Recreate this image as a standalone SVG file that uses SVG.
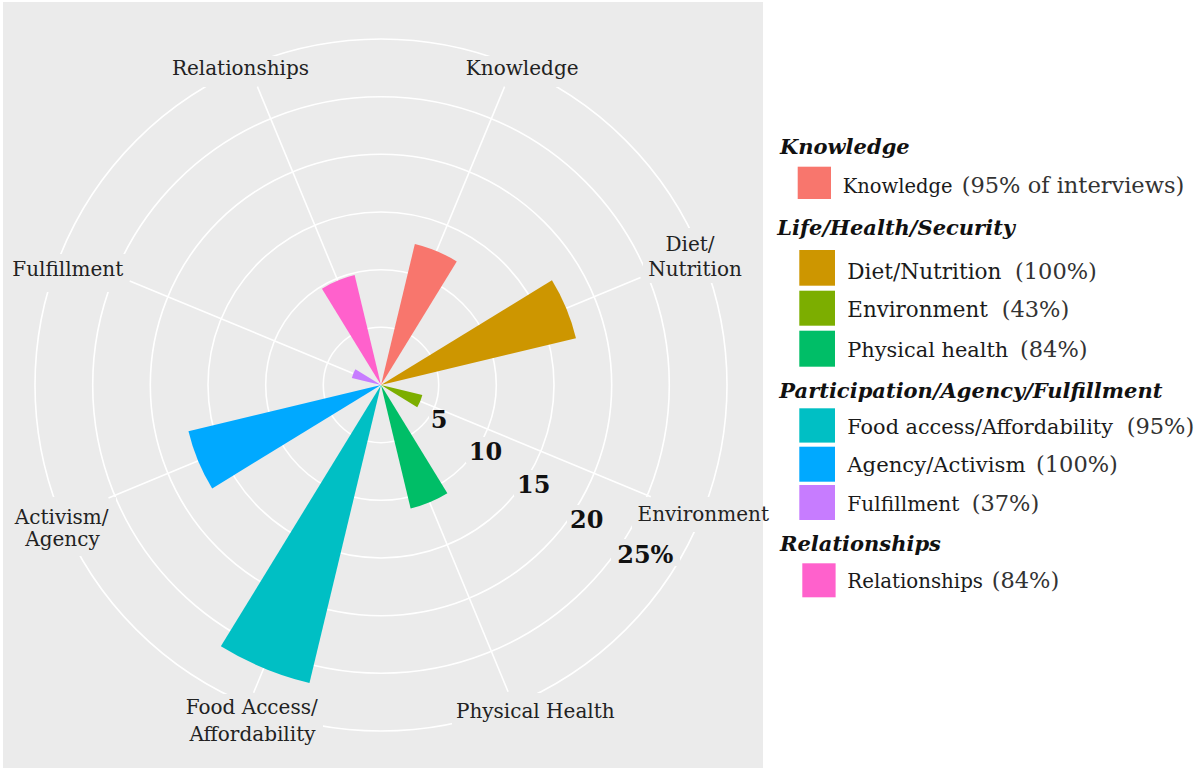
<svg xmlns="http://www.w3.org/2000/svg" width="1199" height="771" viewBox="0 0 1199 771">
<style>
.ring{fill:none;stroke:#ffffff;stroke-width:1.6}
.spoke{stroke:#ffffff;stroke-width:1.6}
.box{fill:#EBEBEB}
.lbl{font-family:'DejaVu Serif','Liberation Serif',serif;font-size:20px;fill:#222;text-anchor:middle}
.scale{font-family:'DejaVu Serif','Liberation Serif',serif;font-weight:bold;font-size:24px;fill:#111;text-anchor:middle}
.lt{font-family:'DejaVu Serif','Liberation Serif',serif;font-weight:bold;font-style:italic;font-size:21px;fill:#111}
.li{font-family:'DejaVu Serif','Liberation Serif',serif;font-size:20.5px;fill:#1a1a1a}
.pct{font-size:22.5px;fill:#333}
</style>
<rect x="0" y="0" width="1199" height="771" fill="#ffffff"/>
<rect id="panel" x="3" y="2" width="760" height="766" fill="#EBEBEB"/>

<g id="grid">
  <circle class="ring" cx="381" cy="385" r="57.7"/>
  <circle class="ring" cx="381" cy="385" r="115.3"/>
  <circle class="ring" cx="381" cy="385" r="173"/>
  <circle class="ring" cx="381" cy="385" r="230.7"/>
  <circle class="ring" cx="381" cy="385" r="288.3"/>
  <circle class="ring" cx="381" cy="385" r="346"/>
</g>

<g id="label-boxes">
  <rect class="box" x="165" y="56" width="150" height="31"/>
  <rect class="box" x="460" y="56" width="125" height="31"/>
  <rect class="box" x="643" y="228" width="105" height="55"/>
  <rect class="box" x="4" y="254" width="126" height="38"/>
  <rect class="box" x="632" y="497" width="131" height="35"/>
  <rect class="box" x="5" y="497" width="111" height="59"/>
  <rect class="box" x="180" y="694" width="143" height="58"/>
  <rect class="box" x="452" y="693" width="167" height="35"/>
  <rect class="box" x="429" y="411" width="20" height="20"/>
  <rect class="box" x="466" y="437" width="39" height="26"/>
  <rect class="box" x="514" y="470" width="39" height="26"/>
  <rect class="box" x="567" y="505" width="39" height="26"/>
  <rect class="box" x="611" y="539" width="69" height="27"/>
</g>

<g id="connectors">
  <line class="spoke" x1="381" y1="385" x2="504.6" y2="86.6"/>
  <line class="spoke" x1="381" y1="385" x2="640.6" y2="277.5"/>
  <line class="spoke" x1="381" y1="385" x2="650.8" y2="496.7"/>
  <line class="spoke" x1="381" y1="385" x2="508.1" y2="691.7"/>
  <line class="spoke" x1="381" y1="385" x2="253.6" y2="692.7"/>
  <line class="spoke" x1="381" y1="385" x2="108.5" y2="497.9"/>
  <line class="spoke" x1="381" y1="385" x2="129.7" y2="280.9"/>
  <line class="spoke" x1="381" y1="385" x2="257.4" y2="86.6"/>
</g>

<g id="bars">
  <path id="bar-knowledge" d="M381,385 L414.85,244.0 A145,145 0 0 1 456.76,261.4 Z" fill="#F8766D"/>
  <path id="bar-diet" d="M381,385 L551.95,280.24 A200.5,200.5 0 0 1 575.97,338.2 Z" fill="#CD9600"/>
  <path id="bar-environment" d="M381,385 L422.33,394.92 A42.5,42.5 0 0 1 417.24,407.21 Z" fill="#7CAE00"/>
  <path id="bar-physical" d="M381,385 L447.36,493.28 A127,127 0 0 1 410.64,508.49 Z" fill="#00BE67"/>
  <path id="bar-food" d="M381,385 L309.46,683.04 A306.5,306.5 0 0 1 220.85,646.32 Z" fill="#00BFC4"/>
  <path id="bar-agency" d="M381,385 L212.19,488.46 A198,198 0 0 1 188.46,431.21 Z" fill="#00A9FF"/>
  <path id="bar-fulfillment" d="M381,385 L351.83,378.0 A30,30 0 0 1 355.42,369.32 Z" fill="#C77CFF"/>
  <path id="bar-relationships" d="M381,385 L321.96,288.66 A113,113 0 0 1 354.63,275.12 Z" fill="#FF61CC"/>
</g>

<g id="axis-labels">
  <text class="lbl" x="240.5" y="75">Relationships</text>
  <text class="lbl" x="522.2" y="75">Knowledge</text>
  <text class="lbl" x="690" y="250.7">Diet/</text>
  <text class="lbl" x="695" y="276">Nutrition</text>
  <text class="lbl" x="67.8" y="276">Fulfillment</text>
  <text class="lbl" x="703.3" y="521">Environment</text>
  <text class="lbl" x="61.7" y="524">Activism/</text>
  <text class="lbl" x="62.5" y="546">Agency</text>
  <text class="lbl" x="251.7" y="714.3">Food Access/</text>
  <text class="lbl" x="252.5" y="740.7">Affordability</text>
  <text class="lbl" x="535.3" y="718.3">Physical Health</text>
</g>

<g id="scale-labels">
  <text class="scale" x="439.2" y="428.3">5</text>
  <text class="scale" x="485.5" y="460">10</text>
  <text class="scale" x="533.7" y="493.3">15</text>
  <text class="scale" x="586.7" y="528.3">20</text>
  <text class="scale" x="645.3" y="562.7">25%</text>
</g>

<g id="legend">
  <text class="lt" x="780" y="154.3">Knowledge</text>
  <rect x="797.7" y="166.7" width="33.3" height="32.3" fill="#F8766D"/>
  <text class="li" x="842.7" y="192.7" style="font-size:19.5px">Knowledge <tspan class="pct" x="961.7">(95% of interviews)</tspan></text>

  <text class="lt" x="777.3" y="235">Life/Health/Security</text>
  <rect x="799.3" y="250" width="35.7" height="35.7" fill="#CD9600"/>
  <text class="li" x="847.3" y="279.3" style="font-size:21.6px">Diet/Nutrition <tspan class="pct" x="1015">(100%)</tspan></text>
  <rect x="799.3" y="290.7" width="35.7" height="35" fill="#7CAE00"/>
  <text class="li" x="847.3" y="317.3" style="font-size:21.4px">Environment <tspan class="pct" x="1001.7">(43%)</tspan></text>
  <rect x="799.3" y="330.7" width="35.7" height="36" fill="#00BE67"/>
  <text class="li" x="847.3" y="356.7" style="font-size:20.9px">Physical health <tspan class="pct" x="1020">(84%)</tspan></text>

  <text class="lt" x="779.3" y="398.3">Participation/Agency/Fulfillment</text>
  <rect x="799.3" y="408.3" width="35.7" height="34.3" fill="#00BFC4"/>
  <text class="li" x="847.3" y="434.3" style="font-size:20.8px">Food access/Affordability <tspan class="pct" x="1126.7">(95%)</tspan></text>
  <rect x="799.3" y="446.7" width="35.7" height="35" fill="#00A9FF"/>
  <text class="li" x="847.3" y="471.7" style="font-size:21.2px">Agency/Activism <tspan class="pct" x="1036">(100%)</tspan></text>
  <rect x="799.3" y="485" width="35.7" height="35" fill="#C77CFF"/>
  <text class="li" x="847.3" y="510.7" style="font-size:20.2px">Fulfillment <tspan class="pct" x="971.7">(37%)</tspan></text>

  <text class="lt" x="780" y="550.7">Relationships</text>
  <rect x="802.3" y="563.3" width="33.3" height="34" fill="#FF61CC"/>
  <text class="li" x="847.3" y="588.3" style="font-size:19.8px">Relationships <tspan class="pct" x="991.7">(84%)</tspan></text>
</g>
</svg>
